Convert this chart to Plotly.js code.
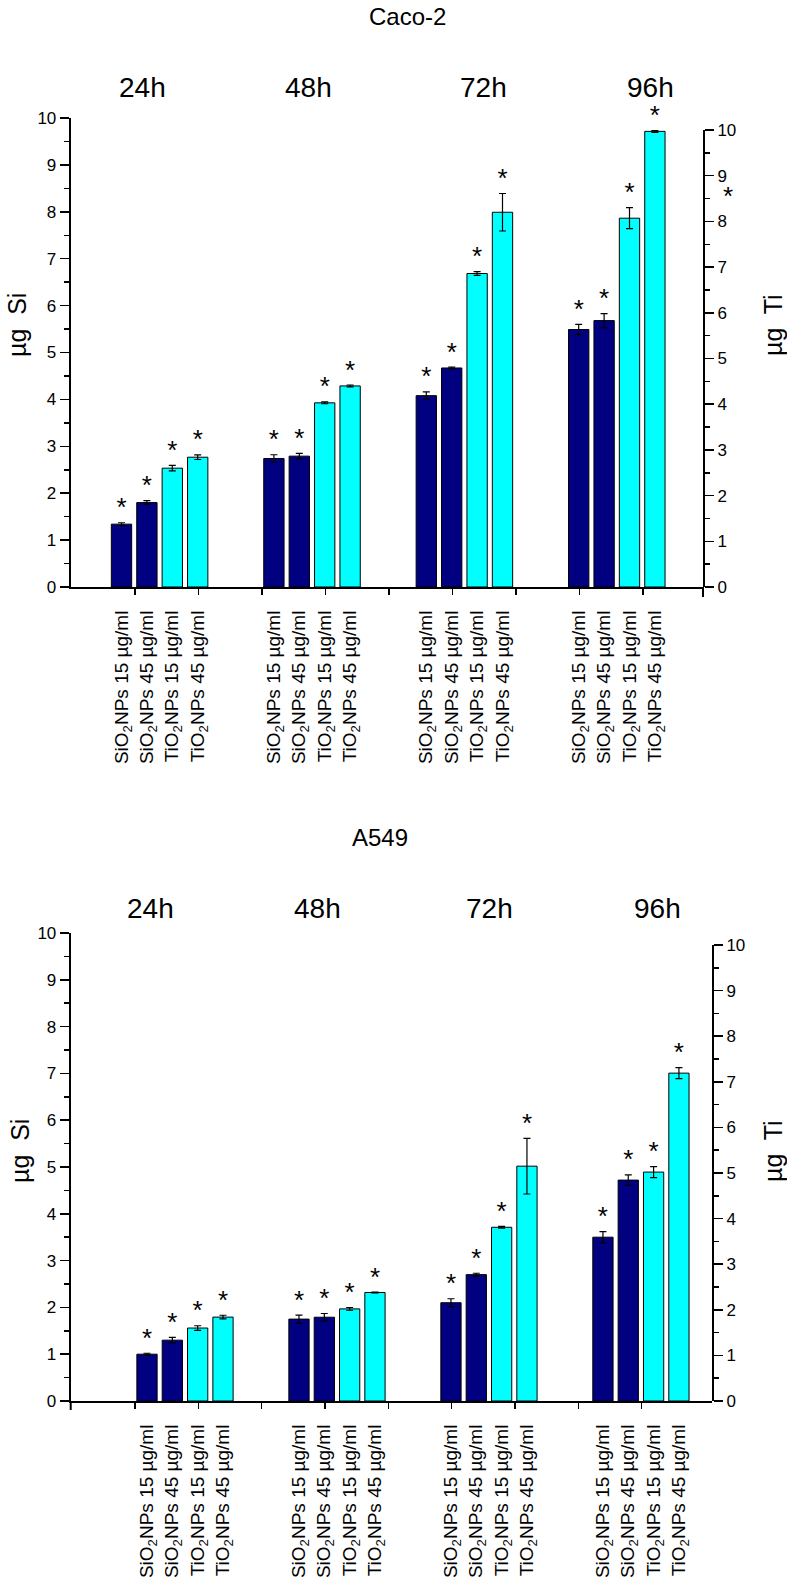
<!DOCTYPE html>
<html>
<head>
<meta charset="utf-8">
<script src="https://cdn.plot.ly/plotly-3.0.1.min.js"></script>
<style>
  html, body { margin: 0; padding: 0; background: #fff; }
  #chart { width: 787px; height: 1588px; }
</style>
</head>
<body>
<div id="chart"></div>
<script>
// ================= DATA =================
const times = ['24h', '48h', '72h', '96h'];
const treatments = [
    'SiO<sub>2</sub>NPs 15 µg/ml',
    'SiO<sub>2</sub>NPs 45 µg/ml',
    'TiO<sub>2</sub>NPs 15 µg/ml',
    'TiO<sub>2</sub>NPs 45 µg/ml'
];
const cellLines = ['Caco-2', 'A549'];

// Caco-2 : Si on left axis (µg Si), Ti on right axis (µg Ti)
const cacoSi15 = [1.34, 2.74, 4.08, 5.49];
const cacoSi15Err = [0.03, 0.08, 0.08, 0.11];
const cacoSi45 = [1.80, 2.79, 4.67, 5.68];
const cacoSi45Err = [0.04, 0.06, 0.02, 0.15];
const cacoTi15 = [2.60, 4.03, 6.86, 8.07];
const cacoTi15Err = [0.06, 0.02, 0.04, 0.23];
const cacoTi45 = [2.84, 4.40, 8.20, 9.97];
const cacoTi45Err = [0.05, 0.02, 0.41, 0.02];

// A549
const a549Si15 = [1.00, 1.75, 2.10, 3.50];
const a549Si15Err = [0.02, 0.085, 0.085, 0.12];
const a549Si45 = [1.30, 1.79, 2.70, 4.72];
const a549Si45Err = [0.06, 0.08, 0.03, 0.11];
const a549Ti15 = [1.60, 2.02, 3.81, 5.02];
const a549Ti15Err = [0.05, 0.03, 0.02, 0.12];
const a549Ti45 = [1.84, 2.38, 5.15, 7.19];
const a549Ti45Err = [0.04, 0.01, 0.61, 0.12];

// ================= LAYOUT HELPERS =================
const W = 787, H = 1588;
const FONT = 'Arial, "Liberation Sans", sans-serif';
const NAVY = '#000080', CYAN = '#00FFFF';
const GROUP = 6; // 4 bars + 2 empty slots per time point

function px(x) { return x / W; }
function py(y) { return (H - y) / H; }

function barTrace(vals, errs, slot, color, xa, ya) {
    return {
        type: 'bar', xaxis: xa, yaxis: ya,
        x: vals.map((v, g) => g * GROUP + slot), y: vals, width: 0.8,
        marker: { color: color, line: { color: '#000', width: 1 } },
        error_y: { type: 'data', array: errs, visible: true, color: '#000', thickness: 1.2, width: 3.5 },
        showlegend: false, hoverinfo: 'y'
    };
}

function starTrace(vals, errs, slot, xa, ya) {
    return {
        type: 'scatter', mode: 'text', xaxis: xa, yaxis: ya,
        x: vals.map((v, g) => g * GROUP + slot),
        y: vals.map((v, g) => v + errs[g]),
        text: vals.map(() => '*'), textposition: 'top center',
        textfont: { family: FONT, size: 26, color: '#000' },
        cliponaxis: false, showlegend: false, hoverinfo: 'skip'
    };
}

function xAxis(domain, anchor, range, tick0) {
    let tickvals = [], ticktext = [];
    for (let g = 0; g < times.length; g++) {
        for (let i = 0; i < treatments.length; i++) {
            tickvals.push(g * GROUP + i);
            ticktext.push(treatments[i]);
        }
    }
    let minorVals = [];
    for (let j = 0; j < 9; j++) minorVals.push(tick0 + 2.5 * j);
    return {
        domain: domain, anchor: anchor, range: range,
        showline: true, linewidth: 2, linecolor: '#000',
        showgrid: false, zeroline: false,
        tickmode: 'array', tickvals: tickvals, ticktext: ticktext,
        ticks: '', tickangle: -90, ticklabelstandoff: 14,
        tickfont: { family: FONT, size: 19, color: '#000' },
        minor: { tickmode: 'array', tickvals: minorVals, ticks: 'outside', ticklen: 6, tickwidth: 1.5, tickcolor: '#000', showgrid: false },
        fixedrange: true
    };
}

function yAxis(domain, anchor, side) {
    return {
        domain: domain, anchor: anchor, side: side, range: [0, 10],
        tickmode: 'linear', tick0: 0, dtick: 1,
        ticks: 'outside', ticklen: 9, tickwidth: 1.5, tickcolor: '#000',
        showline: true, linewidth: 2, linecolor: '#000',
        showgrid: false, zeroline: false,
        tickfont: { family: FONT, size: 17, color: '#000' },
        minor: { dtick: 0.5, ticks: 'outside', ticklen: 5, tickwidth: 1.5, tickcolor: '#000', showgrid: false },
        fixedrange: true
    };
}

// ================= TRACES =================
let traces = [
    barTrace(cacoSi15, cacoSi15Err, 0, NAVY, 'x', 'y'),
    barTrace(cacoSi45, cacoSi45Err, 1, NAVY, 'x', 'y'),
    barTrace(cacoTi15, cacoTi15Err, 2, CYAN, 'x', 'y2'),
    barTrace(cacoTi45, cacoTi45Err, 3, CYAN, 'x', 'y2'),
    starTrace(cacoSi15, cacoSi15Err, 0, 'x', 'y'),
    starTrace(cacoSi45, cacoSi45Err, 1, 'x', 'y'),
    starTrace(cacoTi15, cacoTi15Err, 2, 'x', 'y2'),
    starTrace(cacoTi45, cacoTi45Err, 3, 'x', 'y2'),

    barTrace(a549Si15, a549Si15Err, 0, NAVY, 'x2', 'y3'),
    barTrace(a549Si45, a549Si45Err, 1, NAVY, 'x2', 'y3'),
    barTrace(a549Ti15, a549Ti15Err, 2, CYAN, 'x2', 'y4'),
    barTrace(a549Ti45, a549Ti45Err, 3, CYAN, 'x2', 'y4'),
    starTrace(a549Si15, a549Si15Err, 0, 'x2', 'y3'),
    starTrace(a549Si45, a549Si45Err, 1, 'x2', 'y3'),
    starTrace(a549Ti15, a549Ti15Err, 2, 'x2', 'y4'),
    starTrace(a549Ti45, a549Ti45Err, 3, 'x2', 'y4')
];

// ================= ANNOTATIONS =================
let annotations = [];
function txt(text, x, y, size, angle) {
    annotations.push({
        text: text, xref: 'paper', yref: 'paper', x: px(x), y: py(y),
        xanchor: 'center', yanchor: 'middle', showarrow: false, textangle: angle || 0,
        font: { family: FONT, size: size, color: '#000' }
    });
}

txt(cellLines[0], 407, 17, 24);
txt(cellLines[1], 380, 837, 24);

const topHeadX = [142, 308, 483, 650];
const botHeadX = [150, 317, 490, 657];
times.forEach((t, g) => { txt(t, topHeadX[g], 88, 28); txt(t, botHeadX[g], 908, 28); });

txt('µg\u00a0 Si', 17, 325, 25, -90);
txt('µg\u00a0 Ti', 773, 325, 25, -90);
txt('µg\u00a0 Si', 20, 1151, 25, -90);
txt('µg\u00a0 Ti', 773, 1151, 25, -90);
txt('*', 728, 196, 26);

// small axis stubs below zero
const shapes = [
    { type: 'line', xref: 'paper', yref: 'paper', x0: px(703), x1: px(703), y0: py(587), y1: py(597), line: { color: '#000', width: 2 } },
    { type: 'line', xref: 'paper', yref: 'paper', x0: px(70.7), x1: px(70.7), y0: py(1401), y1: py(1410), line: { color: '#000', width: 2 } }
];

let layout = {
    width: W, height: H,
    margin: { l: 0, r: 0, t: 0, b: 0 },
    paper_bgcolor: '#fff', plot_bgcolor: 'rgba(0,0,0,0)',
    showlegend: false, barmode: 'overlay',
    font: { family: FONT, color: '#000' },
    // Caco-2 (slot 0 center at 121.5px, 25.4px per slot)
    xaxis: xAxis([px(70.7), px(703)], 'y', [(70.7 - 121.5) / 25.4, (703 - 121.5) / 25.4], (135 - 121.5) / 25.4),
    yaxis: yAxis([py(587), py(118)], 'x', 'left'),
    yaxis2: yAxis([py(587), py(130)], 'x', 'right'),
    // A549 (slot 0 center at 147px, 25.33px per slot)
    xaxis2: xAxis([px(70.7), px(712)], 'y3', [(70.7 - 147) / 25.33, (712 - 147) / 25.33], (135 - 147) / 25.33),
    yaxis3: yAxis([py(1401), py(933)], 'x2', 'left'),
    yaxis4: yAxis([py(1401), py(945)], 'x2', 'right'),
    annotations: annotations,
    shapes: shapes
};

Plotly.newPlot('chart', traces, layout, { displayModeBar: false, staticPlot: true });
</script>
</body>
</html>
